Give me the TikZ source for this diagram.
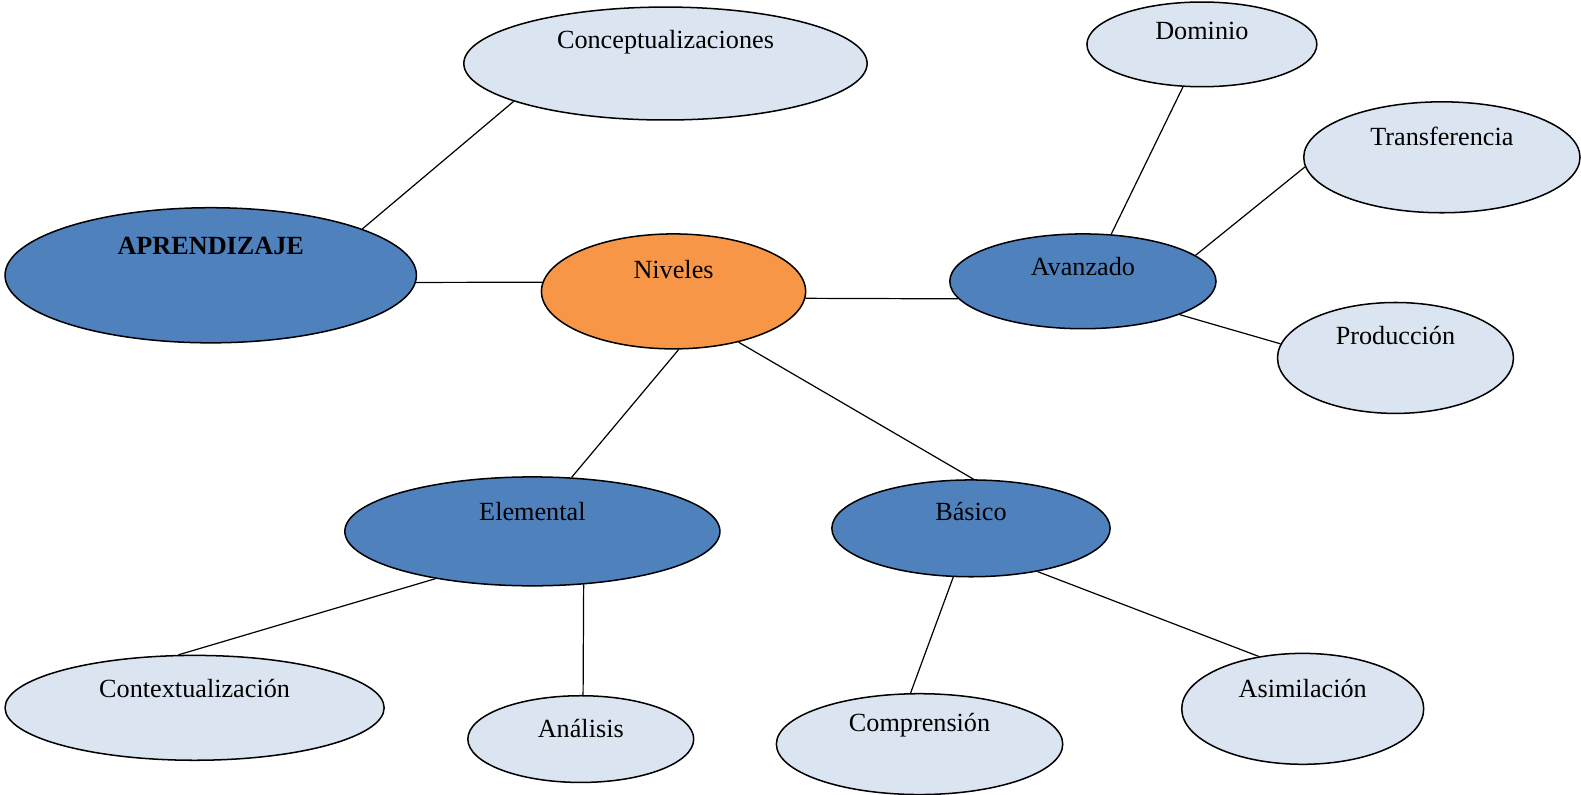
\documentclass[tikz,border=0pt]{standalone}
\usepackage{fontspec}
\setmainfont{Liberation Serif}
\usetikzlibrary{shapes.geometric}

\definecolor{nivblue}{RGB}{79,129,189}
\definecolor{nivorange}{RGB}{247,150,70}
\definecolor{nivlight}{RGB}{219,229,241}

\tikzset{every picture/.style={line width=0.75pt}}
\tikzset{
  every label/.style={font=\fontsize{13}{15}\selectfont},
  bubble/.style={ellipse, draw=black, line width=0.75pt, inner sep=0pt},
  leaf/.style={bubble, fill=nivlight},
  level/.style={bubble, fill=nivblue},
  hub/.style={bubble, fill=nivorange},
  link/.style={draw=black, line width=0.6pt}
}

\begin{document}
\begin{tikzpicture}[x=0.5pt,y=0.5pt,yscale=-1,xscale=1]
\useasboundingbox (0,0) rectangle (1568,788);

%Shape: Ellipse [Conceptualizaciones]
\node [leaf, minimum width=200pt, minimum height=56pt, label={[yshift=10.5pt]center:Conceptualizaciones}] (concept) at (660,63) {};
%Shape: Ellipse [APRENDIZAJE]
\node [level, minimum width=204pt, minimum height=67pt, label={[yshift=14.5pt, font=\fontsize{13}{15}\selectfont\bfseries]center:APRENDIZAJE}] (aprend) at (209,273) {};
%Shape: Ellipse [Niveles]
\node [hub, minimum width=131pt, minimum height=57pt, label={[yshift=11pt]center:Niveles}] (niveles) at (668,289) {};
%Shape: Ellipse [Avanzado]
\node [level, minimum width=132pt, minimum height=47pt, label={[yshift=7.5pt]center:Avanzado}] (avanzado) at (1074,279) {};
%Shape: Ellipse [Dominio]
\node [leaf, minimum width=114pt, minimum height=42pt, label={[yshift=6.5pt]center:Dominio}] (dominio) at (1192,44) {};
%Shape: Ellipse [Transferencia]
\node [leaf, minimum width=137pt, minimum height=55pt, label={[yshift=10.5pt]center:Transferencia}] (transf) at (1430,156) {};
%Shape: Ellipse [Produccion]
\node [leaf, minimum width=117pt, minimum height=55pt, label={[yshift=11pt]center:Producción}] (produc) at (1384,355) {};
%Shape: Ellipse [Elemental]
\node [level, minimum width=186pt, minimum height=54pt, label={[yshift=10pt]center:Elemental}] (elemental) at (528,527) {};
%Shape: Ellipse [Basico]
\node [level, minimum width=138pt, minimum height=48pt, label={[yshift=8.5pt]center:Básico}] (basico) at (963,524) {};
%Shape: Ellipse [Contextualizacion]
\node [leaf, minimum width=188pt, minimum height=52pt, label={[yshift=9.5pt]center:Contextualización}] (context) at (193,702) {};
%Shape: Ellipse [Analisis]
\node [leaf, minimum width=112pt, minimum height=43pt, label={[yshift=5pt]center:Análisis}] (analisis) at (576,733) {};
%Shape: Ellipse [Comprension]
\node [leaf, minimum width=142pt, minimum height=50pt, label={[yshift=9.5pt]center:Comprensión}] (compren) at (912,738) {};
%Shape: Ellipse [Asimilacion]
\node [leaf, minimum width=120pt, minimum height=55pt, label={[yshift=10pt]center:Asimilación}] (asimil) at (1292,703) {};

%Straight Lines
\draw [link] (concept.194) -- (aprend.17) ;
\draw [link] (aprend.-2.5) -- (niveles.176.9) ;
\draw [link] (niveles.-3.4) -- (avanzado.188) ;
\draw [link] (avanzado.59.2) -- (dominio.-114.3) ;
\draw [link] (avanzado.13.1) -- (transf.184.2) ;
\draw [link] (avanzado.-19) -- (produc.173.6) ;
\draw [link] (niveles.-85.3) -- (elemental.54.4) ;
\draw [link] (niveles.-38.9) -- (basico.87.6) ;
\draw [link] (elemental.-154.9) -- (context.107.8) ;
\draw [link] (elemental.-46.7) -- (analisis.87.2) ;
\draw [link] (basico.-110.2) -- (compren.100.4) ;
\draw [link] (basico.-33.9) -- (asimil.130.2) ;

\end{tikzpicture}
\end{document}
